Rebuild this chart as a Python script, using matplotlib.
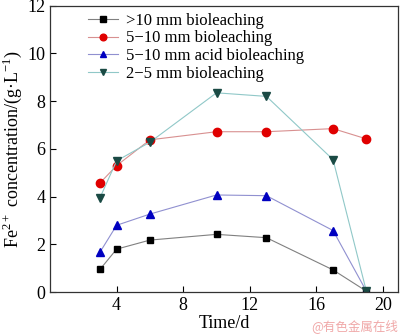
import matplotlib
matplotlib.use('Agg')
import matplotlib.pyplot as plt

plt.rcParams['font.family'] = ['Liberation Serif', 'DejaVu Serif']
plt.rcParams['mathtext.fontset'] = 'custom'
plt.rcParams['mathtext.rm'] = 'Liberation Serif'

time_d = [3, 4, 6, 10, 13, 17, 19]
above_10mm = [0.95, 1.8, 2.18, 2.42, 2.28, 0.93, 0.04]
mm_5_10 = [4.57, 5.3, 6.38, 6.72, 6.72, 6.85, 6.42]
mm_5_10_acid = [1.67, 2.8, 3.27, 4.07, 4.04, 2.58, 0.04]
mm_2_5 = [3.95, 5.5, 6.28, 8.35, 8.2, 5.55, 0.04]

labels = ['>10 mm bioleaching', '5\u221210 mm bioleaching',
          '5\u221210 mm acid bioleaching', '2\u22125 mm bioleaching']

fig = plt.figure(figsize=(4.0, 3.35), dpi=100)
ax = fig.add_axes([0.125, 0.128, 0.87, 0.855])

ax.plot(time_d, above_10mm, '-s', color='#808080', mfc='black', mec='black',
        ms=5, lw=0.8, label=labels[0])
ax.plot(time_d, mm_5_10, '-o', color='#d89090', mfc='#e00000', mec='#e00000',
        ms=6, lw=0.8, label=labels[1])
ax.plot(time_d, mm_5_10_acid, '-^', color='#9090d0', mfc='#0000c0', mec='#0000c0',
        ms=6, lw=0.8, label=labels[2])
ax.plot(time_d, mm_2_5, '-v', color='#90c8c8', mfc='#1a4a44', mec='#1a4a44',
        ms=6, lw=0.8, label=labels[3])

ax.set_xlim(0, 20.9)
ax.set_ylim(0, 12)
ax.set_xticks([4, 8, 12, 16, 20])
ax.set_yticks([0, 2, 4, 6, 8, 10, 12])
ax.tick_params(direction='in', labelsize=13, length=4, width=0.8)
for s in ax.spines.values():
    s.set_linewidth(0.9)
    s.set_color('#333333')

ax.set_xlabel('Time/d', fontsize=13, labelpad=1)
ax.set_ylabel('Fe$^{2+}$ concentration/(g\u00b7L$^{-1}$)', fontsize=13, labelpad=2)

ax.legend(loc='upper left', bbox_to_anchor=(0.08, 1.01), frameon=False,
          fontsize=12, handlelength=1.8, handletextpad=0.5, labelspacing=0.1,
          borderaxespad=0.2, markerscale=0.8)

fig.text(0.995, 0.005, '@有色金属在线', color='#f0a8a8', fontsize=9,
         ha='right', va='bottom', family=['Noto Sans CJK SC', 'DejaVu Sans'])

fig.savefig('out.png', dpi=100)
